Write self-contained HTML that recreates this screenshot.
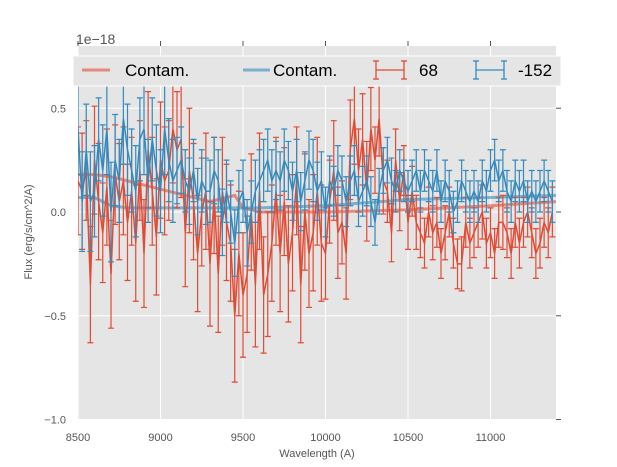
<!DOCTYPE html>
<html><head><meta charset="utf-8"><style>
body{margin:0;background:#fff;}
svg{display:block;font-family:"Liberation Sans","DejaVu Sans",sans-serif;}
</style></head><body>
<svg id="chart" width="617" height="467">
<defs><clipPath id="clip"><rect x="78" y="46" width="478" height="374"/></clipPath></defs>
<rect x="78" y="46" width="478" height="374" fill="#e5e5e5"/>
<g id="grid"></g>
<g id="axes"></g>
<g id="series" clip-path="url(#clip)"></g>
<text x="76" y="44" font-size="14" fill="#555">1e−18</text>
<text x="317" y="457" font-size="11" fill="#555" text-anchor="middle">Wavelength (A)</text>
<text transform="translate(32,232) rotate(-90)" font-size="11" fill="#555" text-anchor="middle">Flux (erg/s/cm^2/A)</text>
<g>
<rect x="73" y="56" width="488" height="30" fill="#e5e5e5" stroke="#fff" stroke-width="1"/>
<line x1="82" y1="70" x2="110" y2="70" stroke="#e24a33" stroke-opacity="0.6" stroke-width="3"/>
<text x="125" y="76" font-size="17" fill="#000">Contam.</text>
<line x1="243" y1="70" x2="270" y2="70" stroke="#348abd" stroke-opacity="0.6" stroke-width="3"/>
<text x="273" y="76" font-size="17" fill="#000">Contam.</text>
<g stroke="#e24a33" stroke-width="1.3"><line x1="376" y1="70" x2="404" y2="70"/><line x1="376" y1="61" x2="376" y2="79"/><line x1="404" y1="61" x2="404" y2="79"/><line x1="373" y1="61" x2="379" y2="61"/><line x1="373" y1="79" x2="379" y2="79"/><line x1="401" y1="61" x2="407" y2="61"/><line x1="401" y1="79" x2="407" y2="79"/></g>
<text x="419" y="76" font-size="17" fill="#000">68</text>
<g stroke="#348abd" stroke-width="1.3"><line x1="476" y1="70" x2="504" y2="70"/><line x1="476" y1="61" x2="476" y2="79"/><line x1="504" y1="61" x2="504" y2="79"/><line x1="473" y1="61" x2="479" y2="61"/><line x1="473" y1="79" x2="479" y2="79"/><line x1="501" y1="61" x2="507" y2="61"/><line x1="501" y1="79" x2="507" y2="79"/></g>
<text x="518" y="76" font-size="17" fill="#000">-152</text>
</g>
</svg>
<script>
const xTicks=[8500,9000,9500,10000,10500,11000];
const yTicks=[-1.0,-0.5,0.0,0.5];
const wlStart=8500, wlStep=25;
const redFlux=[15,10,20,-35,25,5,-10,12,-30,18,5,15,
-5,10,-15,20,-20,30,10,-12,25,15,20,40,
30,35,-10,20,5,-20,0,10,-25,8,-30,10,
-5,-15,-50,-20,-40,-30,0,-35,10,-40,-30,-15,
10,-20,5,-25,-10,15,-35,0,-20,-10,10,-15,
-20,5,20,-10,-5,-20,30,45,20,35,10,40,
25,45,15,10,-10,25,5,20,-5,10,-5,-10,
-15,0,-10,-5,-20,-10,0,-15,-25,-25,-5,-15,
-10,-5,0,-15,-10,-20,-5,-5,-10,-20,-5,-15,
-5,0,-10,-20,-15,-5,-10,0];
const blueFlux=[40,5,30,5,10,35,20,40,0,25,15,45,
30,20,10,35,40,15,35,20,10,40,25,15,
20,25,15,10,20,5,15,10,10,20,15,-5,
10,0,-15,5,10,-10,0,10,15,20,25,15,
20,15,25,20,10,20,5,15,25,20,10,15,
0,15,10,20,15,5,15,20,5,10,15,5,
-5,10,20,25,15,10,20,15,10,15,20,10,
20,15,10,20,5,15,10,0,5,15,10,5,
10,5,15,10,20,25,15,20,10,5,15,10,
15,5,10,5,10,15,10,5];
const redErr=[26,28,24,28,26,28,24,28,26,24,28,26,
28,26,28,24,26,28,26,28,28,26,24,26,
28,28,26,30,28,28,26,28,30,28,28,26,
28,28,32,30,30,28,28,30,28,28,30,28,
26,28,26,28,28,26,28,28,26,28,26,28,
22,20,24,22,20,22,24,22,20,22,24,20,
16,18,16,15,14,15,14,12,13,12,13,12,
12,12,13,12,12,13,12,12,12,13,12,12,
12,12,13,12,12,12,12,13,12,12,12,12,
12,12,12,12,12,12,12,12];
const blueErr=[22,24,22,24,22,20,22,22,24,22,20,22,
22,20,22,20,22,20,20,22,20,22,20,20,
16,16,15,16,15,16,15,16,15,16,15,16,
15,15,16,15,15,16,15,15,15,15,15,15,
14,14,15,14,14,15,14,14,14,15,14,14,
12,12,12,12,12,12,12,12,12,12,12,12,
11,11,11,11,11,10,10,10,10,10,10,10,
10,10,10,10,10,10,10,10,10,10,10,10,
10,10,10,10,10,10,10,10,10,10,10,10,
10,10,10,10,10,10,10,10];
const contamWl=[8500,8600,8700,8800,8900,9000,9100,9200,9300,9400,9450,9500,9600,10000,10500,11000,11400];
const redContam=[18,18,17,15,13,11,9,7,5,7,8,2,0,0,1,3,5];
const blueContam=[7,7,3,2,2,2,2,2,2,2,2,2,2,3,6,7,8];

const NS="http://www.w3.org/2000/svg";
const xs=v=>78+(v-8500)*0.165;
const ys=v=>212-v*207.5;
const u=v=>v/100;
function mk(tag,attrs,parent){const e=document.createElementNS(NS,tag);for(const k in attrs)e.setAttribute(k,attrs[k]);parent.appendChild(e);return e;}
const grid=document.getElementById('grid'),axes=document.getElementById('axes'),ser=document.getElementById('series');
xTicks.forEach(t=>{
 const gl=mk('line',{x1:xs(t),x2:xs(t),y1:46,y2:420,stroke:'#fff','stroke-width':1},grid);
 
 
 const tk=mk('line',{x1:xs(t),x2:xs(t),y1:41,y2:46,stroke:'#555'},axes);
 
 
 const tl=mk('text',{x:xs(t),y:441,'font-size':11,fill:'#555','text-anchor':'middle'},axes);
 tl.textContent=t;
 
 
});
yTicks.forEach(t=>{
 const gl=mk('line',{x1:78,x2:556,y1:ys(t),y2:ys(t),stroke:'#fff','stroke-width':1},grid);
 
 
 const tk=mk('line',{x1:556,x2:561,y1:ys(t),y2:ys(t),stroke:'#555'},axes);
 
 
 const tl=mk('text',{x:66,y:ys(t)+4,'font-size':11,fill:'#555','text-anchor':'end'},axes);
 tl.textContent=(t===0?'0.0':t.toFixed(1)).replace('-','−');
 
 
});
function contam(vals,color,name){
 const d=contamWl.map((w,i)=>(i?'L':'M')+xs(w)+','+ys(u(vals[i]))).join('');
 const p=mk('path',{d:d,fill:'none',stroke:color,'stroke-opacity':0.6,'stroke-width':3},ser);
 
 
}
function errSeries(vals,errs,color,name){
 const g=mk('g',{stroke:color,'stroke-width':1.2,fill:'none'},ser);
 
 
 vals.forEach((v,i)=>{
  const x=xs(wlStart+i*wlStep),y1=ys(u(v+errs[i])),y2=ys(u(v-errs[i]));
  const b=mk('path',{d:`M${x},${y1}L${x},${y2}M${x-3},${y1}L${x+3},${y1}M${x-3},${y2}L${x+3},${y2}`},g);
  
  
 });
 const d=vals.map((v,i)=>(i?'L':'M')+xs(wlStart+i*wlStep)+','+ys(u(v))).join('');
 const l=mk('path',{d:d,'stroke-width':1.5},g);
 
 
}
contam(redContam,'#e24a33','red-contam-line');
contam(blueContam,'#348abd','blue-contam-line');
errSeries(redFlux,redErr,'#e24a33','series-68');
errSeries(blueFlux,blueErr,'#348abd','series-152');
</script>
</body></html>
